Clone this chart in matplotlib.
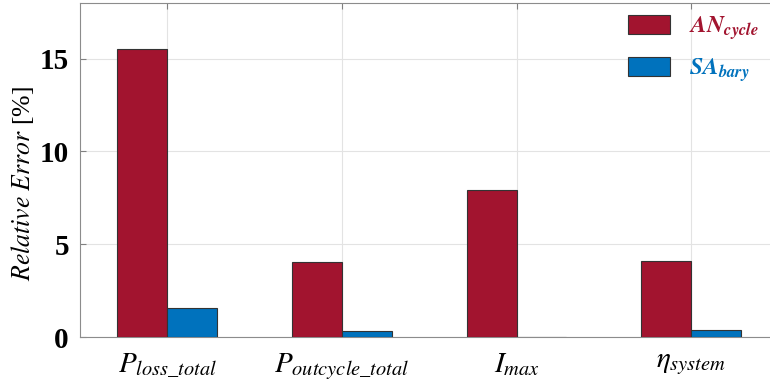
import matplotlib
matplotlib.use("Agg")
import matplotlib.pyplot as plt
import numpy as np

plt.rcParams['mathtext.fontset'] = 'stix'
plt.rcParams['font.family'] = 'Liberation Serif'

categories = [r'$P_{loss\_total}$', r'$P_{outcycle\_total}$', r'$I_{max}$', r'$\eta_{system}$']
an_cycle = [15.5, 4.05, 7.9, 4.1]
sa_bary = [1.55, 0.33, 0.02, 0.38]
series_names = [r'$\mathbfit{AN}_{\mathbfit{cycle}}$', r'$\mathbfit{SA}_{\mathbfit{bary}}$']
red = '#A2142F'
blue = '#0072BD'

fig = plt.figure(figsize=(7.7, 3.9), dpi=100)
ax = fig.add_axes([80 / 770, 53 / 390, 698.5 / 770, 334 / 390])

x = np.arange(1, len(categories) + 1)
w = 2 / 3.5 / 2
b1 = ax.bar(x - w / 2, an_cycle, w, color=red, edgecolor='#333333', linewidth=0.8, zorder=3)
b2 = ax.bar(x + w / 2, sa_bary, w, color=blue, edgecolor='#333333', linewidth=0.8, zorder=3)

ax.set_xlim(0.5, 4.5)
ax.set_ylim(0, 18)
ax.set_xticks(x)
ax.set_xticklabels(categories, fontsize=21)
ax.set_yticks([0, 5, 10, 15])
ax.set_yticklabels(['0', '5', '10', '15'], fontsize=21, fontweight='bold')
ax.tick_params(direction='in', length=4, color='#808080', top=True, right=True, pad=8)
ax.tick_params(axis='x', pad=10)
ax.grid(True, color='#e3e3e3', linewidth=0.8, zorder=0)
ax.set_axisbelow(True)
for s in ax.spines.values():
    s.set_color('#8c8c8c')

ax.set_ylabel('$Relative\\ Error$ [%]', fontsize=18.5)
ax.yaxis.set_label_coords(-0.063, 0.46)

leg = ax.legend([b1, b2], series_names, loc='upper left',
                bbox_to_anchor=(611 / 770, 1 + 2 / 390), bbox_transform=fig.transFigure,
                frameon=False, fontsize=17, handlelength=1.8, handleheight=0.85,
                labelspacing=0.6, handletextpad=0.8, borderpad=0.2)
for t, c in zip(leg.get_texts(), [red, blue]):
    t.set_color(c)

fig.savefig('out.png', dpi=100)
